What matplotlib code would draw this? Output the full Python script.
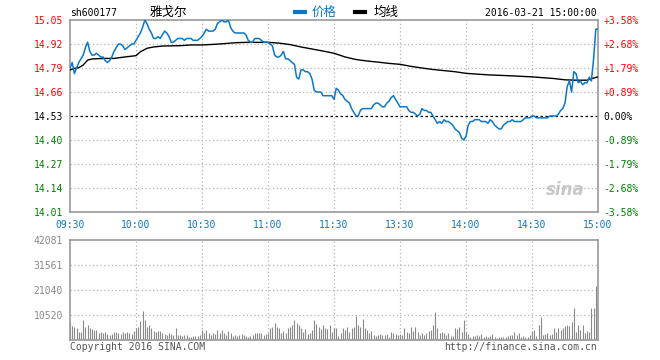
import matplotlib
matplotlib.use("Agg")
import matplotlib.pyplot as plt

# ---------------- data ----------------
prev_close = 14.53
price = [
    14.79, 14.82, 14.76, 14.79, 14.82, 14.84, 14.86, 14.90, 14.93, 14.88,
    14.86, 14.86, 14.87, 14.86, 14.85, 14.85, 14.83, 14.82, 14.83, 14.85,
    14.88, 14.90, 14.92, 14.92, 14.91, 14.89, 14.90, 14.91, 14.92, 14.92,
    14.94, 14.96, 14.98, 15.01, 15.05, 15.03, 15.00, 14.98, 14.95, 14.95,
    14.96, 14.95, 14.97, 14.99, 14.98, 14.96, 14.93, 14.93, 14.94, 14.95,
    14.95, 14.95, 14.94, 14.95, 14.95, 14.95, 14.94, 14.94, 14.94, 14.95,
    14.96, 14.98, 15.00, 14.99, 14.99, 14.99, 15.00, 15.03, 15.04, 15.05,
    15.04, 15.04, 15.05, 15.01, 14.99, 14.98, 14.98, 14.98, 14.98, 14.98,
    14.97, 14.94, 14.93, 14.93, 14.95, 14.95, 14.95, 14.94, 14.93, 14.93,
    14.93, 14.92, 14.91, 14.86, 14.85, 14.85, 14.86, 14.88, 14.84, 14.84,
    14.83, 14.82, 14.81, 14.74, 14.73, 14.78, 14.78, 14.77, 14.77, 14.76,
    14.73, 14.67, 14.66, 14.66, 14.66, 14.64, 14.64, 14.64, 14.64, 14.64,
    14.62, 14.68, 14.67, 14.65, 14.64, 14.62, 14.61, 14.60, 14.57, 14.55,
    14.53, 14.53, 14.56, 14.57, 14.57, 14.57, 14.57, 14.57, 14.59, 14.60,
    14.60, 14.59, 14.58, 14.58, 14.60, 14.61, 14.63, 14.64, 14.62, 14.60,
    14.58, 14.58, 14.58, 14.58, 14.56, 14.55, 14.55, 14.54, 14.53, 14.54,
    14.57, 14.56, 14.56, 14.55, 14.55, 14.53, 14.51, 14.49, 14.50, 14.49,
    14.51, 14.50, 14.50, 14.49, 14.48, 14.46, 14.45, 14.44, 14.41, 14.40,
    14.42, 14.48, 14.50, 14.50, 14.51, 14.51, 14.51, 14.50, 14.50, 14.50,
    14.49, 14.51, 14.50, 14.48, 14.47, 14.46, 14.46, 14.48, 14.49, 14.50,
    14.50, 14.51, 14.50, 14.50, 14.50, 14.50, 14.51, 14.52, 14.52, 14.52,
    14.53, 14.53, 14.52, 14.52, 14.52, 14.52, 14.52, 14.52, 14.53, 14.53,
    14.53, 14.53, 14.54, 14.56, 14.57, 14.60, 14.69, 14.72, 14.66, 14.77,
    14.76, 14.71, 14.72, 14.70, 14.71, 14.71, 14.74, 14.72, 14.84, 15.00,
    15.00,
]

avg_minute = [0, 2, 4, 6, 8, 10, 15, 20, 25, 30, 32, 35, 38, 42, 50, 55, 60,
              65, 70, 75, 80, 90, 95, 100, 105, 110, 115, 120, 125, 130, 135,
              140, 145, 150, 155, 160, 165, 170, 175, 180, 190, 200, 210, 220,
              225, 230, 235, 237, 240]
avg_price = [14.779, 14.788, 14.792, 14.806, 14.833, 14.839, 14.842, 14.842,
             14.850, 14.857, 14.878, 14.897, 14.904, 14.909, 14.911, 14.915,
             14.915, 14.918, 14.922, 14.927, 14.929, 14.929, 14.925, 14.917,
             14.904, 14.893, 14.882, 14.870, 14.850, 14.836, 14.828, 14.822,
             14.815, 14.810, 14.799, 14.790, 14.782, 14.776, 14.770, 14.761,
             14.753, 14.748, 14.742, 14.733, 14.726, 14.724, 14.724, 14.732,
             14.742]

volume = [
    7700, 5900, 5300, 4900, 3500, 3500, 8400, 5600, 6300, 4900,
    4500, 4200, 4200, 2800, 3500, 3100, 3500, 2500, 2100, 2500,
    3500, 3400, 2800, 2500, 3500, 3100, 3500, 2800, 2500, 3900,
    4900, 5600, 8100, 12200, 8400, 5600, 6300, 4900, 3900, 3500,
    3900, 3800, 3100, 2500, 2100, 3100, 2500, 2100, 4900, 2100,
    2100, 1700, 2100, 2200, 1100, 1400, 1700, 1700, 1700, 2100,
    4200, 2800, 4200, 3100, 2100, 2800, 2500, 4200, 3100, 4200,
    3100, 2100, 3900, 2800, 1700, 2100, 1700, 2100, 2500, 2000,
    1700, 1400, 1700, 2100, 2800, 3100, 2800, 3100, 2000, 2500,
    2800, 4900, 5600, 7300, 5300, 4900, 3100, 3900, 3100, 4900,
    5300, 6300, 8400, 7300, 6300, 4900, 3500, 4500, 2500, 3100,
    4200, 8400, 6700, 5600, 4500, 6300, 4900, 4500, 6300, 3500,
    4900, 4900, 1700, 2800, 4900, 4200, 5600, 3500, 4900, 5600,
    10100, 6300, 5600, 8700, 4900, 4200, 2800, 3900, 2100, 1700,
    2100, 2500, 2100, 2100, 2500, 1100, 3500, 2800, 2500, 2100,
    2500, 2100, 4900, 3500, 2800, 5300, 3900, 5300, 3500, 2100,
    2800, 2100, 3100, 3900, 4200, 6300, 11900, 4900, 3100, 3500,
    3100, 2100, 3100, 1700, 1700, 4900, 4500, 5300, 3500, 8400,
    3500, 2500, 1400, 1700, 1700, 2100, 1700, 2500, 1400, 1700,
    1400, 1700, 2500, 1100, 700, 1100, 1100, 1100, 1400, 1700,
    2100, 2100, 3500, 2100, 2800, 1400, 1700, 1400, 1100, 2100,
    3900, 4200, 1700, 6300, 9500, 2100, 2500, 3100, 2100, 2500,
    4900, 3500, 4900, 4200, 4900, 5900, 6300, 5900, 7700, 13300,
    3500, 6300, 4200, 6300, 3100, 3900, 3500, 13300, 13300, 22700,
    42081,
]

price_ticks = [15.05, 14.92, 14.79, 14.66, 14.53, 14.40, 14.27, 14.14, 14.01]
price_labels = ["15.05", "14.92", "14.79", "14.66", "14.53", "14.40", "14.27", "14.14", "14.01"]
pct_labels = ["+3.58%", "+2.68%", "+1.79%", "+0.89%", "0.00%", "-0.89%", "-1.79%", "-2.68%", "-3.58%"]
time_ticks = [0, 30, 60, 90, 120, 150, 180, 210, 240]
time_labels = ["09:30", "10:00", "10:30", "11:00", "11:30", "13:30", "14:00", "14:30", "15:00"]
vol_ticks = [42081, 31561, 21040, 10520]
vol_labels = ["42081", "31561", "21040", "10520"]

stock_code = "sh600177"
stock_name = "雅戈尔"
stamp = "2016-03-21 15:00:00"

# ---------------- style ----------------
MONO = ["DejaVu Sans Mono", "Noto Sans CJK SC"]
CJK = ["Noto Sans CJK SC", "DejaVu Sans"]
BLUE = "#0a78c8"
RED = "#ff0000"
GREEN = "#008000"
FRAME = "#999999"
GRID = "#b4b4b4"

def label_color(lbl):
    if lbl.startswith("+"):
        return RED
    if lbl.startswith("-"):
        return GREEN
    return "black"

fig = plt.figure(figsize=(6.6, 3.6), dpi=100)
W, H = 660.0, 360.0
ax = fig.add_axes([70 / W, 1 - 212 / H, 528 / W, 192 / H])
axv = fig.add_axes([70 / W, 1 - 340 / H, 528 / W, 100 / H])

minutes = list(range(len(price)))

# main chart
ylo = prev_close * (1 - 0.0358)
yhi = prev_close * (1 + 0.0358)
ax.set_xlim(0, 240)
ax.set_ylim(ylo, yhi)
for t in time_ticks[1:-1]:
    ax.axvline(t, color=GRID, lw=0.9, ls=(0, (1, 2)), zorder=1)
for p in price_ticks[1:-1]:
    if p == prev_close:
        continue
    ax.axhline(p, color=GRID, lw=0.9, ls=(0, (1, 2)), zorder=1)
ax.axhline(prev_close, color="black", lw=0.9, ls=(0, (2, 2)), zorder=2)

ax.plot(avg_minute, avg_price, color="black", lw=1.0, zorder=3)
ax.plot(minutes, price, color=BLUE, lw=1.1, zorder=4)

for s in ax.spines.values():
    s.set_color(FRAME)
    s.set_linewidth(1.2)

ax.set_yticks(price_ticks)
ax.set_yticklabels(price_labels, fontfamily=MONO, fontsize=7)
ax.tick_params(axis="y", length=0, pad=5)
for lbl, txt in zip(ax.get_yticklabels(), price_labels):
    v = float(txt)
    lbl.set_color(RED if v > prev_close + 1e-9 else (GREEN if v < prev_close - 1e-9 else "black"))

ax.set_xticks(time_ticks)
ax.set_xticklabels(time_labels, fontfamily=MONO, fontsize=7, color=BLUE)
ax.tick_params(axis="x", length=0, pad=6)

axr = ax.twinx()
axr.set_ylim(ylo, yhi)
axr.set_yticks(price_ticks)
axr.set_yticklabels(pct_labels, fontfamily=MONO, fontsize=7)
axr.tick_params(axis="y", length=0, pad=4)
for lbl, txt in zip(axr.get_yticklabels(), pct_labels):
    lbl.set_color(label_color(txt))
for s in axr.spines.values():
    s.set_visible(False)

ax.text(0.975, 0.07, "sina", transform=ax.transAxes, ha="right", va="bottom",
        fontsize=12, fontweight="bold", style="italic", color="#c8c8c8",
        family="DejaVu Sans", zorder=0)

# volume chart
axv.set_xlim(0, 240)
axv.set_ylim(0, vol_ticks[0])
for t in time_ticks[1:-1]:
    axv.axvline(t, color=GRID, lw=0.9, ls=(0, (1, 2)), zorder=1)
for v in vol_ticks[1:]:
    axv.axhline(v, color=GRID, lw=0.9, ls=(0, (1, 2)), zorder=1)
axv.vlines(minutes, 0, volume, color="#8a8a8a", lw=0.8, zorder=2)
for s in axv.spines.values():
    s.set_color(FRAME)
    s.set_linewidth(1.2)
axv.set_xticks([])
axv.set_yticks(vol_ticks)
axv.set_yticklabels(vol_labels, fontfamily=MONO, fontsize=7, color="#888888")
axv.tick_params(axis="y", length=0, pad=5)

# header texts
fig.text(70 / W, 1 - 13 / H, stock_code, ha="left", va="center", family=MONO, fontsize=7)
fig.text(150 / W, 1 - 12 / H, stock_name, ha="left", va="center", family=CJK, fontsize=9)
fig.lines.append(plt.Line2D([295 / W, 305 / W], [1 - 12 / H, 1 - 12 / H], transform=fig.transFigure,
                            color=BLUE, lw=3))
fig.text(312 / W, 1 - 12 / H, "价格", ha="left", va="center", family=CJK, fontsize=9, color=BLUE)
fig.lines.append(plt.Line2D([355 / W, 365 / W], [1 - 12 / H, 1 - 12 / H], transform=fig.transFigure,
                            color="black", lw=3))
fig.text(374 / W, 1 - 12 / H, "均线", ha="left", va="center", family=CJK, fontsize=9, color="black")
fig.text(597 / W, 1 - 13 / H, stamp, ha="right", va="center", family=MONO, fontsize=7)

fig.text(70 / W, 1 - 347 / H, "Copyright 2016 SINA.COM", ha="left", va="center",
         family=MONO, fontsize=7, color="#555555")
fig.text(597 / W, 1 - 347 / H, "http://finance.sina.com.cn", ha="right", va="center",
         family=MONO, fontsize=7, color="#555555")

fig.savefig("out.png", dpi=100)
